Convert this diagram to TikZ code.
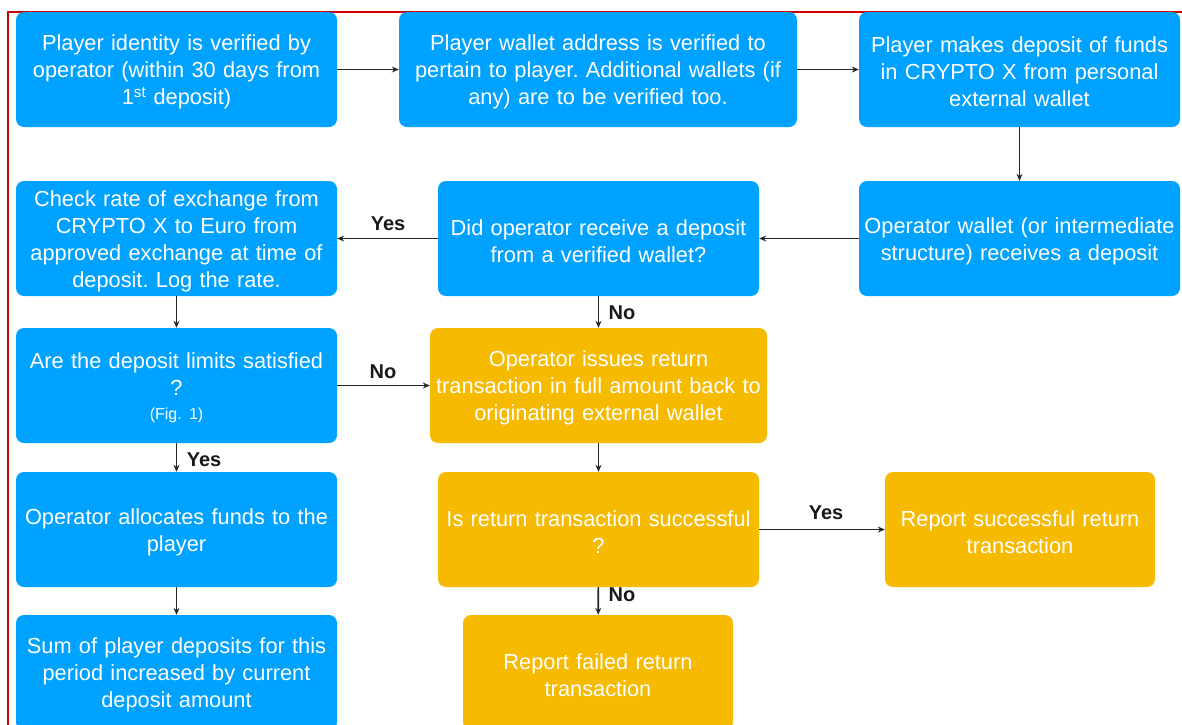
\documentclass[tikz,border=0pt]{standalone}
\usepackage{fontspec}
\setmainfont{Liberation Sans}
\usetikzlibrary{arrows.meta}
\definecolor{bluebox}{RGB}{0,162,255}
\definecolor{yellowbox}{RGB}{246,186,0}
\definecolor{framered}{RGB}{204,0,0}
\frenchspacing
\tikzset{
  stepbox/.style={rectangle, rounded corners=8pt, fill=bluebox, text=white, align=center,
    minimum height=115pt, inner sep=0pt, font=\fontsize{21.8}{27}\selectfont\frenchspacing,
    execute at begin node={\rule{0pt}{21pt}}},
  ybox/.style={stepbox, fill=yellowbox},
  conn/.style={draw=black!85, line width=1.6pt, -{Stealth[length=7pt,width=6pt]}},
  lbl/.style={font=\fontsize{20}{22}\selectfont\bfseries, text=black!90, inner sep=0pt}
}
\begin{document}
\begin{tikzpicture}[x=1pt,y=-1pt]
\useasboundingbox (0,0) rectangle (1182,724);
\clip (0,0) rectangle (1182,724);
\draw[framered, line width=2pt] (8,11.5) rectangle (1200,760);

\node[stepbox, minimum width=321pt, text width=318pt] (b1) at (176.5,69.5)
  {Player identity is verified by\\operator (within 30 days from\\1\textsuperscript{st} deposit)};
\node[stepbox, minimum width=398pt, text width=396pt] (b2) at (598,69.5)
  {Player wallet address is verified to\\pertain to player. Additional wallets (if\\any) are to be verified too.};
\node[stepbox, minimum width=321pt, text width=320pt] (b3) at (1019.5,69.5)
  {Player makes deposit of funds\\in CRYPTO X from personal\\external wallet};

\node[stepbox, minimum width=321pt, text width=320pt] (b4) at (176.5,238.5)
  {Check rate of exchange from\\CRYPTO X to Euro from\\approved exchange at time of\\deposit. Log the rate.};
\node[stepbox, minimum width=321pt, text width=320pt] (b5) at (598.5,238.5)
  {Did operator receive a deposit\\from a verified wallet?};
\node[stepbox, minimum width=321pt, text width=321pt] (b6) at (1019.5,238.5)
  {Operator wallet (or intermediate\\structure) receives a deposit};

\node[stepbox, minimum width=321pt, text width=320pt] (b7) at (176.5,385.5)
  {Are the deposit limits satisfied\\?\\[-3pt]{\fontsize{16}{18}\selectfont\frenchspacing (Fig. 1)}};
\node[ybox, minimum width=337pt, text width=337pt] (b8) at (598.5,385.5)
  {Operator issues return\\transaction in full amount back to\\originating external wallet};

\node[stepbox, minimum width=321pt, text width=320pt] (b9) at (176.5,529.5)
  {Operator allocates funds to the\\player};
\node[ybox, minimum width=321pt, text width=321pt] (b10) at (598.5,529.5)
  {Is return transaction successful\\?};
\node[ybox, minimum width=270pt, text width=268pt] (b11) at (1020,529.5)
  {Report successful return\\transaction};

\node[stepbox, minimum width=321pt, text width=320pt] (b12) at (176.5,672.5)
  {Sum of player deposits for this\\period increased by current\\deposit amount};
\node[ybox, minimum width=270pt, text width=268pt] (b13) at (598,672.5)
  {Report failed return\\transaction};

\draw[conn] (b1) -- (b2);
\draw[conn] (b2) -- (b3);
\draw[conn] (b3) -- (b6);
\draw[conn] (b6) -- (b5);
\draw[conn] (b5) -- (b4);
\draw[conn] (b5) -- (b8);
\draw[conn] (b4) -- (b7);
\draw[conn] (b7.east) -- (b8.west);
\draw[conn] (b7) -- (b9);
\draw[conn] (b8) -- (b10);
\draw[conn] (b10) -- (b11);
\draw[conn] (b10) -- (b13);
\draw[conn] (b9) -- (b12);

\node[lbl] (l1) at (388,224) {Yes};
\node[lbl] (l2) at (622,313) {No};
\node[lbl] (l3) at (383,372) {No};
\node[lbl] (l4) at (204,460) {Yes};
\node[lbl] (l5) at (826,513) {Yes};
\node[lbl] (l6) at (622,595) {No};
\end{tikzpicture}
\end{document}
